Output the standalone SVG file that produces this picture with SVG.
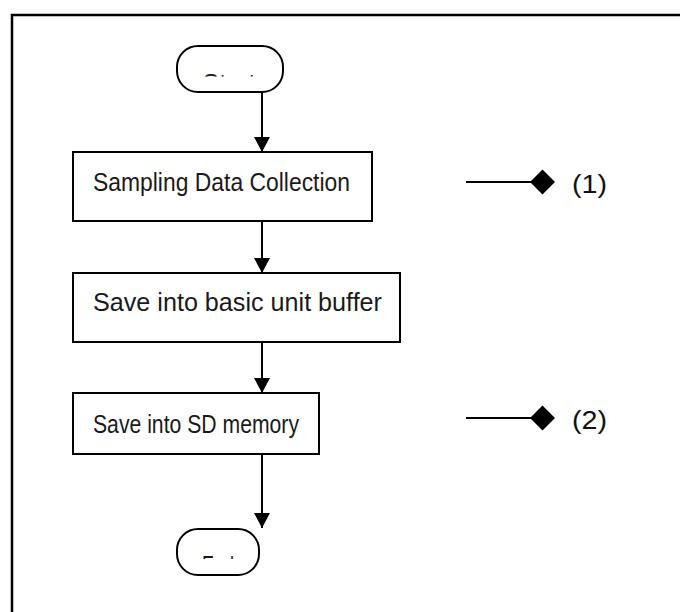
<svg xmlns="http://www.w3.org/2000/svg" width="680" height="612" viewBox="0 0 680 612">
  <style>
    .box { fill: #ffffff; stroke: #000000; stroke-width: 2; }
    .term { fill: #ffffff; stroke: #000000; stroke-width: 2; }
    .lbl { font-family: "Liberation Sans", Arial, sans-serif; font-size: 25px; fill: #1a1a1a; }
    .ref { font-family: "Liberation Sans", Arial, sans-serif; font-size: 26px; fill: #111111; }
    .conn { stroke: #000000; stroke-width: 2; fill: none; }
    .diamond { fill: #000000; }
  </style>
  <defs>
    <marker id="arrow" markerUnits="userSpaceOnUse" markerWidth="15" markerHeight="16" viewBox="0 0 15 16" refX="15" refY="8" orient="auto">
      <path d="M0,0 L15,8 L0,16 Z" fill="#000000"/>
    </marker>
    <clipPath id="clipStart"><rect x="177" y="73" width="106" height="3.5"/></clipPath>
    <clipPath id="clipEnd"><rect x="177" y="556" width="82" height="3"/></clipPath>
  </defs>
  <rect width="680" height="612" fill="#ffffff"/>
  <g id="frame">
    <path d="M12,700 L12,15 L700,15" fill="none" stroke="#000000" stroke-width="2.5"/>
  </g>
  <g id="connectors">
    <line class="conn" x1="262" y1="92" x2="262" y2="152" marker-end="url(#arrow)"/>
    <line class="conn" x1="262" y1="221" x2="262" y2="273" marker-end="url(#arrow)"/>
    <line class="conn" x1="262" y1="342" x2="262" y2="393" marker-end="url(#arrow)"/>
    <line class="conn" x1="262" y1="454" x2="262" y2="528" marker-end="url(#arrow)"/>
    <line class="conn" x1="466" y1="182" x2="532" y2="182"/>
    <line class="conn" x1="466" y1="418" x2="532" y2="418"/>
  </g>
  <g id="start">
    <rect class="term" x="177" y="46" width="106" height="46" rx="21" ry="21"/>
    <g clip-path="url(#clipStart)">
      <text class="lbl" x="229" y="91.5" text-anchor="middle">Start</text>
    </g>
  </g>
  <g id="sampling">
    <rect class="box" x="73" y="152" width="299" height="69"/>
    <text class="lbl" transform="scale(0.916,1)" x="101.5" y="191" textLength="280.6" lengthAdjust="spacingAndGlyphs">Sampling Data Collection</text>
  </g>
  <g id="buffer">
    <rect class="box" x="73" y="273" width="327" height="69"/>
    <text class="lbl" x="93" y="311" textLength="289" lengthAdjust="spacingAndGlyphs">Save into basic unit buffer</text>
  </g>
  <g id="sdmemory">
    <rect class="box" x="73" y="393" width="246" height="61"/>
    <text class="lbl" transform="scale(0.847,1)" x="109.8" y="433" textLength="243.2" lengthAdjust="spacingAndGlyphs">Save into SD memory</text>
  </g>
  <g id="end">
    <rect class="term" x="177" y="529" width="82" height="46" rx="21" ry="21"/>
    <g clip-path="url(#clipEnd)">
      <text class="lbl" transform="scale(0.72,1)" x="302.8" y="574" text-anchor="middle">End</text>
    </g>
  </g>
  <g id="marker1">
    <polygon class="diamond" points="530,182 542.5,169.5 555,182 542.5,194.5"/>
    <text class="ref" x="572" y="193" textLength="35" lengthAdjust="spacingAndGlyphs">(1)</text>
  </g>
  <g id="marker2">
    <polygon class="diamond" points="530,418 542.5,405.5 555,418 542.5,430.5"/>
    <text class="ref" x="572" y="429" textLength="35" lengthAdjust="spacingAndGlyphs">(2)</text>
  </g>
</svg>
